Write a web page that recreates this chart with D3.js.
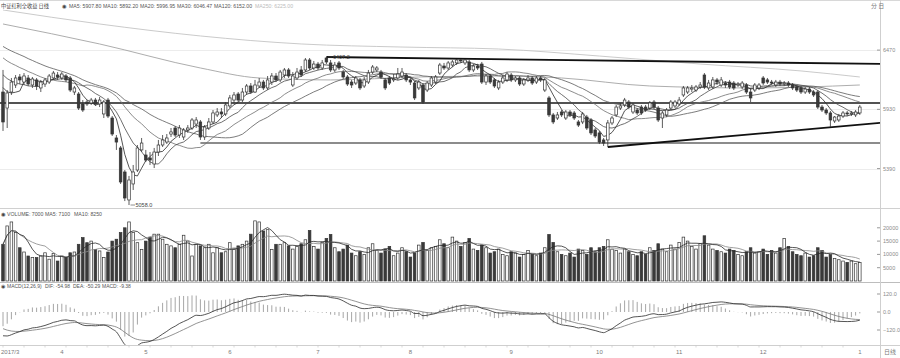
<!DOCTYPE html>
<html>
<head>
<meta charset="utf-8">
<script src="https://cdn.jsdelivr.net/npm/d3@7"></script>
<style>
html,body{margin:0;padding:0;background:#fff;}
svg{display:block;font-family:"Liberation Sans","DejaVu Sans","Noto Sans CJK SC",sans-serif;}
</style>
</head>
<body>
<svg id="chart" width="900" height="358"></svg>
<script>
// ---- daily bars ----
// closes of the sessions before the first drawn bar (feed the moving averages / MACD)
const priorClose = [6744,6763,6726,6699,6726,6744,6708,6672,6653,6681,6653,6617,6580,6599,6562,6544,6517,6489,6507,6471,6425,6398,6362,6334,6289,6270,6234,6179,6143];

const open = [
6088,5942,6088,6152,6225,6179,6216,6152,6198,6125,
6161,6179,6216,6243,6216,6234,6216,6088,6070,5979,
5997,5988,6015,5979,5888,6015,5851,5669,5578,5359,
5104,5250,5377,5560,5514,5487,5432,5541,5605,5632,
5705,5760,5696,5678,5742,5760,5796,5815,5678,5760,
5815,5879,5906,5888,5961,6015,6070,6015,6088,6143,
6088,6143,6179,6125,6179,6234,6198,6243,6289,6152,
6216,6289,6289,6380,6307,6343,6307,6398,6353,6289,
6353,6270,6225,6179,6170,6198,6143,6179,6270,6289,
6270,6198,6216,6198,6216,6234,6243,6198,6170,6125,
6152,6106,6152,6179,6261,6325,6307,6334,6353,6380,
6353,6362,6289,6325,6343,6179,6234,6198,6125,6179,
6198,6243,6198,6216,6161,6198,6216,6179,6216,6106,
6034,5879,5851,5906,5851,5906,5897,5815,5815,5860,
5833,5742,5715,5651,5651,5806,5879,5942,5970,5997,
5906,5924,5951,5951,5942,5997,5942,5851,5879,5942,
5961,5979,6061,6088,6115,6106,6134,6243,6125,6134,
6198,6152,6170,6179,6170,6152,6134,6152,6088,6106,
6125,6216,6198,6179,6152,6179,6161,6170,6152,6134,
6125,6088,6115,6088,6088,5951,5924,5897,5824,5833,
5869,5897,5888,5879,5897];

const high = [
6289,6106,6216,6243,6252,6261,6243,6225,6216,6198,
6216,6252,6280,6270,6270,6252,6234,6143,6088,6015,
6015,6034,6034,6043,6015,6034,5869,5696,5596,5377,
5323,5423,5605,5669,5560,5541,5578,5651,5696,5705,
5760,5778,5787,5760,5787,5851,5860,5833,5787,5851,
5924,5942,5942,5997,6061,6088,6088,6125,6161,6170,
6198,6216,6198,6234,6261,6261,6289,6307,6307,6270,
6307,6325,6398,6398,6371,6362,6380,6407.2,6380,6362,
6371,6289,6243,6198,6234,6216,6225,6289,6334,6325,
6289,6216,6234,6252,6307,6307,6261,6216,6188,6198,
6170,6188,6234,6243,6353,6353,6371,6380,6389,6389,
6389,6380,6343,6343,6362,6252,6252,6216,6198,6243,
6270,6261,6234,6234,6216,6243,6234,6234,6234,6216,
6052,5897,5906,5924,5924,5924,5915,5833,5906,5879,
5851,5760,5733,5669,5833,5869,5970,5988,6034,6015,
5988,5942,5970,5970,6006,6015,5961,5915,5942,6015,
6015,6043,6143,6143,6152,6152,6179,6261,6198,6225,
6216,6225,6188,6198,6188,6179,6188,6170,6125,6170,
6170,6234,6216,6198,6198,6198,6188,6188,6170,6152,
6143,6134,6134,6106,6106,5970,5942,5915,5869,5888,
5915,5915,5915,5924,5970];

const low = [
5733,5760,6061,6125,6161,6152,6143,6125,6106,6088,
6134,6161,6198,6198,6198,6179,6088,6061,5924,5906,
5961,5970,5961,5951,5851,5851,5687,5560,5250,5094,
5058.0,5195,5359,5541,5450,5423,5395,5505,5587,5614,
5678,5678,5669,5651,5715,5742,5760,5651,5651,5742,
5796,5860,5851,5869,5942,5988,5997,5997,6061,6070,
6079,6125,6106,6106,6152,6179,6179,6216,6216,6134,
6198,6225,6270,6289,6289,6289,6289,6343,6270,6270,
6289,6207,6143,6125,6152,6106,6125,6161,6252,6270,
6207,6106,6152,6179,6198,6216,6179,6152,6015,6106,
5979,6088,6134,6161,6243,6289,6289,6316,6334,6353,
6334,6270,6270,6289,6161,6152,6161,6125,6106,6161,
6179,6179,6179,6143,6143,6179,6152,6161,6179,6088,
5860,5796,5833,5860,5833,5860,5833,5769,5796,5742,
5696,5669,5614,5596,5587,5787,5860,5924,5951,5933,
5888,5879,5879,5906,5924,5933,5815,5760,5860,5924,
5942,5961,6043,6070,6088,6088,6115,6115,6106,6115,
6152,6134,6125,6115,6106,6134,6115,6070,5997,6088,
6106,6152,6161,6152,6134,6143,6143,6134,6106,6088,
6070,6070,6070,6043,5933,5906,5879,5769,5806,5815,
5851,5869,5869,5860,5879];

const close = [
5815,6079,6179,6216,6198,6234,6161,6207,6143,6179,
6198,6234,6261,6225,6252,6198,6106,6125,5942,5924,
5979,6015,5979,6015,5997,5869,5705,5632,5268,5122,
5286,5359,5578,5623,5468,5468,5541,5605,5651,5669,
5724,5696,5760,5742,5760,5833,5833,5678,5769,5815,
5897,5906,5888,5970,6034,6061,6015,6088,6143,6088,
6152,6179,6125,6198,6234,6198,6270,6289,6234,6234,
6270,6243,6380,6307,6343,6307,6353,6362,6289,6334,
6307,6225,6161,6152,6216,6125,6198,6261,6316,6307,
6225,6125,6170,6207,6252,6270,6198,6179,6034,6179,
5997,6170,6216,6225,6334,6307,6353,6362,6380,6371,
6380,6289,6325,6307,6179,6234,6179,6143,6179,6216,
6252,6198,6216,6161,6198,6216,6170,6216,6198,6198,
5879,5815,5879,5879,5906,5879,5851,5787,5888,5760,
5715,5687,5632,5623,5806,5851,5951,5961,6015,5951,
5970,5897,5897,5924,5988,5951,5833,5897,5924,5997,
5997,6015,6125,6125,6125,6134,6152,6134,6170,6198,
6179,6198,6152,6134,6125,6161,6170,6088,6034,6152,
6152,6170,6179,6170,6179,6161,6170,6152,6125,6106,
6088,6115,6088,6061,5951,5924,5897,5833,5860,5869,
5897,5888,5897,5906,5951];

const volume = [
13800,20700,22200,18200,12500,10900,9400,8800,8800,9400,
10600,8200,10400,7500,9400,8800,10600,10900,13800,16300,
14400,15000,11900,11300,8800,10900,15000,15700,18200,20000,
22200,18200,14400,11900,15000,16300,17600,17600,15700,13800,
13200,12500,13800,17200,15000,9400,13800,13200,12500,13800,
10600,12500,10600,11000,14400,11900,13200,13800,15000,17600,
22600,22200,18800,19300,11900,13800,13800,14400,13200,12000,
13000,14000,15500,19000,13000,12000,14500,16000,17500,12500,
11000,12000,13500,10500,9500,11000,10000,12500,14000,11500,
10500,12000,13000,9500,10500,12500,11000,9000,10500,13500,
14500,11500,12500,13000,15500,14000,12500,16500,15000,13000,
14500,16000,12000,11500,13500,12500,10500,11000,12000,10000,
9500,11000,10500,9000,10000,11500,10000,9500,10500,12500,
17500,14500,11000,10000,9500,10500,9000,12000,11500,10000,
12500,11000,12500,13000,15500,12000,11500,10500,12000,11000,
10000,9500,11000,10000,12500,11500,14000,12000,11000,13500,
12000,14500,16500,15000,13000,12000,14000,17000,13500,12000,
11500,11000,10500,12000,11500,10000,9500,11000,12500,10500,
11000,12000,10000,11500,10500,12500,16000,13000,11000,10000,
9500,10500,9000,9500,12500,11500,9000,10000,8500,8000,
7500,7000,7500,6500,7000];

// long averages, read at these bar positions
const ma120Idx = [0,23,47,61,78,99,118,133,154,178,204];
const ma120Val = [6708,6526,6307,6216,6198,6225,6234,6216,6143,6125,6152];
const ma250Idx = [0,23,47,71,95,118,142,166,190,204];
const ma250Val = [6836,6708,6599,6526,6498,6480,6416,6343,6280,6225];

// month axis
const monthIdx = [0,14,34,54,75,97,121,142,161,181,204];
const monthLabels = ["2017/3","4","5","6","7","8","9","10","11","12","1"];

// axis ticks
const priceTicks = [6470,5930,5390];
const volTicks = [20000,15000,10000,5000];
const macdTicks = [120,0,-120];

// drawn study lines
const resistance = 5988;
const support = 5623, supportFrom = 47;
const upperTrend = [[77,6407.2],[204,6346]];
const lowerTrend = [[144,5587],[204,5790]];

// ---- layout ----
const W = 900, H = 358, plotR = 880;
const N = close.length;
const svg = d3.select("#chart");

const x = d3.scaleLinear().domain([0, 204]).range([3, 859.8]);
const y = d3.scaleLinear().domain([5030.8, 6835.6]).range([208, 10]);
const yv = d3.scaleLinear().domain([0, 20000]).range([281, 227.8]);
const ym = d3.scaleLinear().domain([-120, 120]).range([330, 294]);
const idxAtRight = x.invert(plotR);

const defs = svg.append("defs");
defs.append("clipPath").attr("id","clipMain").append("rect").attr("x",0).attr("y",10).attr("width",plotR).attr("height",198);
defs.append("clipPath").attr("id","clipVol").append("rect").attr("x",0).attr("y",218).attr("width",plotR).attr("height",64);
defs.append("clipPath").attr("id","clipMacd").append("rect").attr("x",0).attr("y",289).attr("width",plotR).attr("height",56);

// ---- indicators ----
const P = priorClose.length;
const allClose = priorClose.concat(close);
function sma(arr, n, offset){
  return d3.range(N).map(i => {
    const end = offset + i, start = Math.max(0, end - n + 1);
    return d3.mean(arr.slice(start, end + 1));
  });
}
function ema(arr, n){
  const a = 2/(n+1), out = [];
  arr.forEach((v,k) => out.push(k ? out[k-1] + a*(v - out[k-1]) : v));
  return out;
}
const ma5 = sma(allClose,5,P), ma10 = sma(allClose,10,P), ma20 = sma(allClose,20,P), ma30 = sma(allClose,30,P);
const vma5 = sma(volume,5,0), vma10 = sma(volume,10,0);
const e12 = ema(allClose,12), e26 = ema(allClose,26);
const difAll = e12.map((v,k) => v - e26[k]);
const deaAll = ema(difAll,9);
const dif = difAll.slice(P), dea = deaAll.slice(P);
const hist = dif.map((v,i) => 2*(v - dea[i]));

// ---- frame ----
const frame = svg.append("g").attr("fill","none");
frame.append("line").attr("x1",0).attr("x2",W).attr("y1",0.5).attr("y2",0.5).attr("stroke","#d8d8d8");
frame.append("line").attr("x1",0).attr("x2",W).attr("y1",208.5).attr("y2",208.5).attr("stroke","#d0d0d0");
frame.append("line").attr("x1",0).attr("x2",W).attr("y1",282.5).attr("y2",282.5).attr("stroke","#bdbdbd");
frame.append("line").attr("x1",0).attr("x2",W).attr("y1",345.5).attr("y2",345.5).attr("stroke","#cfcfcf");
frame.append("line").attr("x1",plotR+0.5).attr("x2",plotR+0.5).attr("y1",0).attr("y2",H).attr("stroke","#cfcfcf");

// grid at price ticks
svg.append("g").selectAll("line").data(priceTicks).join("line")
  .attr("x1",0).attr("x2",plotR).attr("y1",d=>Math.round(y(d))+0.5).attr("y2",d=>Math.round(y(d))+0.5)
  .attr("stroke","#ececec");

// ---- right axes ----
function rightAxis(scale, ticks, fmt){
  const g = svg.append("g");
  g.selectAll("line").data(ticks).join("line")
    .attr("x1",plotR-3).attr("x2",plotR).attr("y1",d=>scale(d)).attr("y2",d=>scale(d))
    .attr("stroke","#999");
  g.selectAll("text").data(ticks).join("text")
    .attr("x",plotR+3).attr("y",d=>scale(d)+2)
    .attr("fill","#8a8a8a").attr("font-size","5.5px")
    .text(fmt);
}
rightAxis(y, priceTicks, d3.format("d"));
rightAxis(yv, volTicks, d3.format("d"));
rightAxis(ym, macdTicks, d3.format(".1f"));

// ---- price panel ----
const main = svg.append("g").attr("clip-path","url(#clipMain)");

// long averages
const lineIdx = d3.line().x(d=>x(d[0])).y(d=>y(d[1])).curve(d3.curveMonotoneX);
main.append("path").attr("d", lineIdx(ma250Idx.map((k,j)=>[k,ma250Val[j]])))
  .attr("fill","none").attr("stroke","#c4c4c4").attr("stroke-width",0.9);
main.append("path").attr("d", lineIdx(ma120Idx.map((k,j)=>[k,ma120Val[j]])))
  .attr("fill","none").attr("stroke","#a4a4a4").attr("stroke-width",0.9);

// support / resistance and trend lines
main.append("line").attr("x1",0).attr("x2",plotR).attr("y1",y(resistance)).attr("y2",y(resistance))
  .attr("stroke","#1a1a1a").attr("stroke-width",1.3);
main.append("line").attr("x1",x(supportFrom)).attr("x2",plotR).attr("y1",y(support)).attr("y2",y(support))
  .attr("stroke","#1a1a1a").attr("stroke-width",1.1);
function trend(pts){
  const [[i0,v0],[i1,v1]] = pts, slope = (v1-v0)/(i1-i0);
  main.append("line").attr("x1",x(i0)).attr("y1",y(v0))
    .attr("x2",plotR).attr("y2",y(v0 + slope*(idxAtRight - i0)))
    .attr("stroke","#111").attr("stroke-width",1.8);
}
trend(upperTrend);
trend(lowerTrend);

// short averages
const maLine = d3.line().x((d,i)=>x(i)).y(d=>y(d));
[[ma30,"#5a5a5a"],[ma20,"#6e6e6e"],[ma10,"#4a4a4a"],[ma5,"#2a2a2a"]].forEach(([s,c])=>{
  main.append("path").attr("d",maLine(s)).attr("fill","none").attr("stroke",c).attr("stroke-width",0.8);
});

// candles
const bw = 2.6;
const candles = main.append("g").selectAll("g").data(d3.range(N)).join("g");
candles.append("line")
  .attr("x1",i=>x(i)).attr("x2",i=>x(i))
  .attr("y1",i=>y(high[i])).attr("y2",i=>y(low[i]))
  .attr("stroke","#333").attr("stroke-width",0.8);
candles.append("rect")
  .attr("x",i=>x(i)-bw/2).attr("width",bw)
  .attr("y",i=>y(Math.max(open[i],close[i])))
  .attr("height",i=>Math.max(0.8, Math.abs(y(open[i])-y(close[i]))))
  .attr("fill",i=>close[i]>=open[i] ? "#fff" : "#3a3a3a")
  .attr("stroke","#333").attr("stroke-width",0.7);

// extreme annotations
const hiI = d3.maxIndex(high), loI = d3.minIndex(low);
const ann = svg.append("g").attr("font-size","5.5px").attr("fill","#444");
ann.append("line").attr("x1",x(hiI)+1.5).attr("x2",x(hiI)+6).attr("y1",y(high[hiI])).attr("y2",y(high[hiI])).attr("stroke","#444").attr("stroke-width",0.6);
ann.append("text").attr("x",x(hiI)+6.5).attr("y",y(high[hiI])+2).text(high[hiI].toFixed(1));
ann.append("line").attr("x1",x(loI)+1.5).attr("x2",x(loI)+6).attr("y1",y(low[loI])).attr("y2",y(low[loI])).attr("stroke","#444").attr("stroke-width",0.6);
ann.append("text").attr("x",x(loI)+6.5).attr("y",y(low[loI])+2).text(low[loI].toFixed(1));

// ---- volume panel ----
const vol = svg.append("g").attr("clip-path","url(#clipVol)");
vol.selectAll("rect").data(d3.range(N)).join("rect")
  .attr("x",i=>x(i)-bw/2).attr("width",bw)
  .attr("y",i=>yv(volume[i])).attr("height",i=>yv(0)-yv(volume[i]))
  .attr("fill",i=>close[i]>=open[i] ? "#fff" : "#3a3a3a")
  .attr("stroke","#333").attr("stroke-width",0.7);
const vLine = d3.line().x((d,i)=>x(i)).y(d=>yv(d));
vol.append("path").attr("d",vLine(vma10)).attr("fill","none").attr("stroke","#888").attr("stroke-width",0.8);
vol.append("path").attr("d",vLine(vma5)).attr("fill","none").attr("stroke","#2a2a2a").attr("stroke-width",0.8);

// ---- MACD panel ----
const mg = svg.append("g").attr("clip-path","url(#clipMacd)");
mg.selectAll("line").data(d3.range(N)).join("line")
  .attr("x1",i=>x(i)).attr("x2",i=>x(i))
  .attr("y1",ym(0)).attr("y2",i=>ym(hist[i]))
  .attr("stroke","#8f8f8f").attr("stroke-width",0.8);
const mLine = d3.line().x((d,i)=>x(i)).y(d=>ym(d)).curve(d3.curveMonotoneX);
mg.append("path").attr("d",mLine(dea)).attr("fill","none").attr("stroke","#777").attr("stroke-width",0.8);
mg.append("path").attr("d",mLine(dif)).attr("fill","none").attr("stroke","#2a2a2a").attr("stroke-width",0.8);

// ---- time axis ----
const tx = svg.append("g");
tx.selectAll("line").data(d3.range(0,N,5)).join("line")
  .attr("x1",i=>x(i)).attr("x2",i=>x(i)).attr("y1",345).attr("y2",347.5)
  .attr("stroke","#c8c8c8").attr("stroke-width",0.7);
tx.selectAll("text").data(monthIdx).join("text")
  .attr("x",(d,k)=>k===0 ? 1 : x(d)).attr("y",354)
  .attr("text-anchor",(d,k)=>k===0 ? "start" : "middle")
  .attr("font-size","6px").attr("fill","#7a7a7a")
  .text((d,k)=>monthLabels[k]);
svg.append("text").attr("x",884).attr("y",354).attr("font-size","6px").attr("fill","#7a7a7a")
  .attr("font-family","Noto Sans CJK SC").text("日线");

// ---- panel headers ----
const f2 = v => v.toFixed(2);
function header(yb, size, segs){
  const g = svg.append("g").attr("font-size", size);
  segs.forEach(s => {
    const t = g.append("text").attr("x",s.x).attr("y",yb).attr("fill",s.c || "#555").text(s.t);
    if (s.cjk) t.attr("font-family","Noto Sans CJK SC");
  });
}
const last = N-1;
header(7.5, "5.2px", [
  {x:1, t:"中证红利全收益 日线", cjk:true, c:"#444"},
  {x:62, t:"◉", c:"#444"},
  {x:69, t:"MA5: "+f2(ma5[last])},
  {x:103, t:"MA10: "+f2(ma10[last])},
  {x:140, t:"MA20: "+f2(ma20[last])},
  {x:177, t:"MA30: "+f2(ma30[last])},
  {x:214, t:"MA120: "+f2(ma120Val[ma120Val.length-1])},
  {x:255, t:"MA250: "+f2(ma250Val[ma250Val.length-1]), c:"#bbb"}
]);
svg.append("text").attr("x",871).attr("y",7.5).attr("font-size","6px").attr("fill","#777")
  .attr("font-family","Noto Sans CJK SC").text("分 日");
header(215.5, "5.2px", [
  {x:1, t:"◉", c:"#444"},
  {x:7, t:"VOLUME: "+Math.round(volume[last])},
  {x:45, t:"MA5: "+Math.round(vma5[last])},
  {x:74, t:"MA10: "+Math.round(vma10[last])}
]);
header(288, "5px", [
  {x:1, t:"◉", c:"#444"},
  {x:7, t:"MACD(12,26,9)"},
  {x:45, t:"DIF: "+f2(dif[last])},
  {x:73, t:"DEA: "+f2(dea[last])},
  {x:102, t:"MACD: "+f2(hist[last])}
]);
</script>
</body>
</html>
